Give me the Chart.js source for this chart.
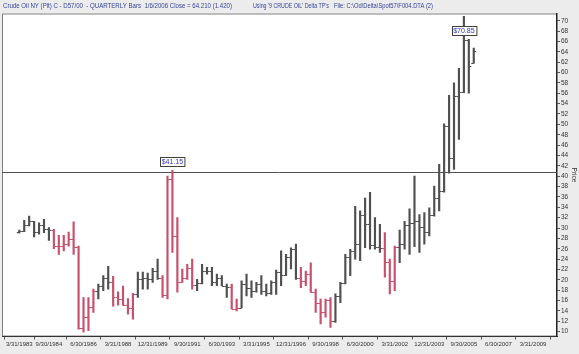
<!DOCTYPE html>
<html>
<head>
<meta charset="utf-8">
<script src="https://cdn.jsdelivr.net/npm/chart.js@4.4.1/dist/chart.umd.min.js"></script>
<style>
  html, body { margin: 0; padding: 0; background: #ececec; }
</style>
</head>
<body>
<canvas id="chart" width="579" height="354"></canvas>
<script>
// Quarterly bars: index 0 = Q1 1983 ... index 92 = Q1 2006
const opens = [29.2,29.4,30.6,31.3,29.3,30.5,29.8,29.7,26.6,26.5,27.0,27.8,26.3,10.7,12.8,14.8,17.9,18.8,20.3,19.6,
  16.7,16.4,15.2,14.6,17.2,20.2,20.3,20.1,21.8,20.3,17.1,39.5,28.4,19.6,20.3,22.2,19.1,19.3,21.8,21.7,
  19.5,20.3,18.9,18.6,14.4,14.6,19.2,18.4,17.8,19.2,17.9,17.5,19.5,21.5,20.9,24.4,25.9,20.4,19.8,21.2,
  17.6,15.6,13.8,16.1,12.1,16.8,19.3,24.5,25.6,26.9,32.5,30.8,26.8,26.3,26.2,23.4,19.8,26.3,26.9,30.5,
  31.0,31.4,30.2,29.2,32.5,35.8,37.1,49.6,43.5,55.4,56.3,66.3,61.9];
const highs = [29.6,31.5,32.3,31.3,31.0,31.7,30.1,29.75,28.6,28.6,29.2,31.2,26.5,16.6,16.6,18.2,19.2,20.8,22.6,20.7,
  17.7,18.8,16.4,17.4,21.5,21.5,21.3,22.2,24.0,20.8,40.0,41.15,32.0,22.1,23.0,24.0,20.1,23.0,22.4,22.4,
  21.1,20.8,19.2,19.2,16.3,19.8,21.1,19.8,19.5,20.8,19.2,19.8,21.9,25.6,24.9,26.2,26.9,22.4,21.7,23.3,
  18.2,16.3,16.3,16.6,17.3,19.5,24.9,25.9,34.2,33.3,35.8,36.9,32.0,30.7,29.1,24.0,26.5,29.6,31.3,33.7,
  40.0,32.6,33.0,33.9,38.1,42.3,50.1,55.6,58.0,60.8,70.85,66.4,64.7];
const lows = [29.0,29.3,30.4,28.3,28.8,29.1,27.6,26.0,24.9,25.6,26.5,24.9,10.5,9.9,10.2,13.7,16.3,17.9,18.2,14.9,
  15.1,15.1,13.4,12.4,16.6,18.2,18.2,19.5,20.1,16.6,16.3,25.3,17.6,19.5,20.1,18.2,17.9,19.2,21.1,18.9,
  18.9,18.9,16.6,14.4,14.0,14.6,16.9,16.6,17.6,17.2,16.9,17.2,17.2,18.9,20.8,22.1,20.1,18.5,18.9,17.6,
  13.7,11.5,12.8,10.8,11.8,15.6,19.2,20.8,24.0,23.7,26.2,25.9,25.9,25.3,20.5,17.3,17.9,23.3,25.9,24.9,
  26.4,25.3,26.9,28.5,32.3,33.3,36.9,40.6,41.3,47.1,56.1,56.0,61.8];
const closes = [29.4,30.6,31.3,29.3,30.5,29.8,29.7,26.6,26.5,27.0,27.8,26.3,10.7,12.8,14.8,17.9,18.8,20.3,19.6,16.7,
  16.4,15.2,14.6,17.2,20.2,20.3,20.1,21.8,20.3,17.1,39.5,28.4,19.6,20.3,22.2,19.1,19.3,21.8,21.7,19.5,
  20.3,18.9,18.6,14.4,14.6,19.2,18.4,17.8,19.2,17.9,17.5,19.5,21.5,20.9,24.4,25.9,20.4,19.8,21.2,17.6,
  15.6,13.8,16.1,12.1,16.8,19.3,24.5,25.6,26.9,32.5,30.8,26.8,26.3,26.2,23.4,19.8,26.3,26.9,30.5,31.0,
  31.4,30.2,29.2,32.5,35.8,37.1,49.6,43.5,55.4,56.3,66.3,61.2,64.2];
// r = red (down trend), k = normal
const trend = 'kkkkkkkrrrrrrrrrkkkrrrrrkkkkkrrrrrrrkkkkkkkrrkkkkkkkkkkkkrrrrrrrkkkkkkkkkkrrrkkkkkkkkkkkkkkkk';

const xTickIdx = [0, 6, 13, 20, 27, 34, 41, 48, 55, 62, 69, 76, 83, 90, 97, 104];
const xTickLabels = ['3/31/1983','9/30/1984','6/30/1986','3/31/1988','12/31/1989','9/30/1991','6/30/1993',
  '3/31/1995','12/31/1996','9/30/1998','6/30/2000','3/31/2002','12/31/2003','9/30/2005','6/30/2007','3/31/2009'];
const yTicks = [10,12,14,16,18,20,22,24,26,28,30,32,34,36,38,40,42,44,46,48,50,52,54,56,58,60,62,64,66,68,70];

const levelLine = 40.9;
const priceLabels = [{ idx: 31, text: '$41.15' }, { idx: 90, text: '$70.85' }];

const headerParts = [
  { text: 'Crude Oil NY (Pit) C - D57/00  - QUARTERLY Bars  1/6/2006 Close = 64.210 (1.420)', x: 3, w: 229 },
  { text: "Using '9 CRUDE OIL' Delta TP's", x: 253, w: 76 },
  { text: 'File: C:\\Od\\Delta\\Spot57\\F004.DTA (2)', x: 334, w: 99 }
];

const RED = '#c8506c';
const DARK = '#505050';
const barColors = trend.split('').map(t => t === 'r' ? RED : DARK);

Chart.defaults.font.family = '"Liberation Sans", Arial, sans-serif';

const backgroundPlugin = {
  id: 'background',
  beforeDraw(chart) {
    const ctx = chart.ctx;
    const a = chart.chartArea;
    ctx.save();
    ctx.fillStyle = '#ececec';
    ctx.fillRect(0, 0, chart.width, chart.height);
    ctx.fillStyle = '#ffffff';
    ctx.fillRect(a.left, a.top, a.right - a.left, a.bottom - a.top);
    ctx.strokeStyle = '#808080';
    ctx.lineWidth = 1;
    ctx.strokeRect(a.left + 0.5, a.top + 0.5, a.right - a.left - 1, a.bottom - a.top - 1);
    // header text
    ctx.font = '7px "Liberation Sans"';
    ctx.fillStyle = '#34449a';
    ctx.textBaseline = 'middle';
    headerParts.forEach(p => {
      const tw = ctx.measureText(p.text).width;
      ctx.save();
      ctx.translate(p.x, 6);
      ctx.scale(p.w / tw, 1);
      ctx.fillText(p.text, 0, 0);
      ctx.restore();
    });
    ctx.restore();
  },
  beforeDatasetsDraw(chart) {
    const ctx = chart.ctx;
    const a = chart.chartArea;
    const y = Math.round(chart.scales.y.getPixelForValue(levelLine)) + 0.5;
    ctx.save();
    ctx.strokeStyle = '#505050';
    ctx.lineWidth = 1;
    ctx.beginPath();
    ctx.moveTo(a.left, y);
    ctx.lineTo(a.right, y);
    ctx.stroke();
    ctx.restore();
  },
  afterDatasetsDraw(chart) {
    const ctx = chart.ctx;
    const xs = chart.scales.x, ys = chart.scales.y;
    const a = chart.chartArea;
    ctx.save();
    ctx.lineWidth = 1;
    // open (left) and close (right) ticks
    opens.forEach((o, i) => {
      const px = xs.getPixelForValue(i);
      ctx.strokeStyle = barColors[i];
      const yo = Math.round(ys.getPixelForValue(o)) + 0.5;
      const yc = Math.round(ys.getPixelForValue(closes[i])) + 0.5;
      ctx.beginPath();
      ctx.moveTo(px - 2.5, yo);
      ctx.lineTo(px, yo);
      ctx.moveTo(px, yc);
      ctx.lineTo(px + 2.5, yc);
      ctx.stroke();
    });
    // price boxes
    ctx.font = '7px "Liberation Sans"';
    ctx.textAlign = 'center';
    ctx.textBaseline = 'middle';
    priceLabels.forEach(l => {
      const px = xs.getPixelForValue(l.idx);
      const cy = Math.max(ys.getPixelForValue(highs[l.idx]) - 9, a.top + 17);
      const w = ctx.measureText(l.text).width + 3;
      const h = 9;
      const bx = Math.round(px - w / 2) + 0.5;
      const by = Math.round(cy - h / 2) + 0.5;
      ctx.fillStyle = '#ffffff';
      ctx.fillRect(bx, by, w, h);
      ctx.strokeStyle = '#404040';
      ctx.strokeRect(bx, by, w, h);
      ctx.fillStyle = '#2a35c8';
      ctx.fillText(l.text, px, cy + 0.5);
    });
    ctx.restore();
  }
};

new Chart(document.getElementById('chart'), {
  type: 'bar',
  data: {
    datasets: [{
      data: highs.map((h, i) => ({ x: i, y: [lows[i], h] })),
      backgroundColor: barColors,
      borderWidth: 0,
      barThickness: 1.5,
      grouped: false
    }]
  },
  options: {
    responsive: false,
    devicePixelRatio: 1,
    animation: false,
    layout: { padding: { left: 2, top: 13.5, right: 0, bottom: 0 } },
    plugins: { legend: { display: false }, tooltip: { enabled: false } },
    scales: {
      x: {
        type: 'linear',
        min: -3.5,
        max: 108.85,
        offset: false,
        afterBuildTicks: s => { s.ticks = xTickIdx.map(v => ({ value: v })); },
        afterFit: s => { s.height = 17.5; },
        ticks: {
          autoSkip: false,
          maxRotation: 0,
          padding: 1,
          color: '#333',
          font: { size: 6 },
          callback: (v, i) => xTickLabels[i]
        },
        grid: { drawOnChartArea: false, tickLength: 3, color: '#555' },
        border: { color: '#333', width: 1 }
      },
      y: {
        position: 'right',
        min: 9.07,
        max: 71.39,
        afterBuildTicks: s => { s.ticks = yTicks.map(v => ({ value: v })); },
        afterFit: s => { s.width = 22; },
        ticks: { autoSkip: false, padding: 1, color: '#333', font: { size: 6.5 } },
        grid: { drawOnChartArea: false, tickLength: 3, color: '#555' },
        border: { color: '#222', width: 1.5 },
        title: { display: true, text: 'Price', color: '#333', font: { size: 6.5 }, padding: 1 }
      }
    }
  },
  plugins: [backgroundPlugin]
});
</script>
</body>
</html>
